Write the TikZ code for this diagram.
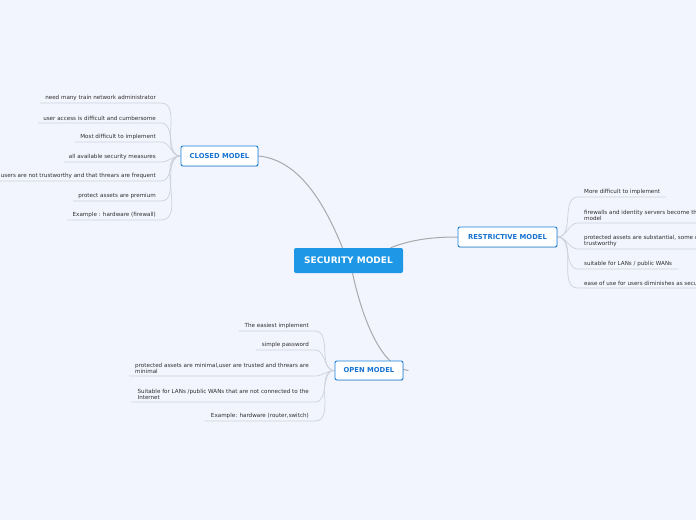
\documentclass[tikz,border=0pt]{standalone}
\usepackage{fontspec}
\setmainfont{DejaVu Sans}
\usetikzlibrary{shadows,calc}
\definecolor{bg}{HTML}{F2F5FD}
\definecolor{mainblue}{HTML}{1E98E6}
\definecolor{subblue}{HTML}{1B80DC}
\definecolor{subtext}{HTML}{1672D0}
\definecolor{leaftext}{HTML}{2E2E2E}
\definecolor{leafline}{HTML}{CDD2DA}
\definecolor{mainline}{HTML}{A9A9AD}
\pgfdeclarelayer{bgl}
\pgfdeclarelayer{links}
\pgfsetlayers{bgl,links,main}
\tikzset{
  mainbox/.style={fill=mainblue, rounded corners=2pt, text=white, font=\fontsize{9}{10}\selectfont\bfseries, minimum width=109pt, minimum height=25pt, inner sep=0pt},
  subbox/.style={fill=white, draw=subblue, line width=0.9pt, rounded corners=2pt, text=subtext, font=\fontsize{6.8}{8}\selectfont\bfseries, minimum height=20pt, inner sep=0pt, drop shadow={opacity=0.25, shadow xshift=0.6pt, shadow yshift=-0.8pt}},
  leafE/.style={anchor=south east, text=leaftext, font=\fontsize{5.6}{6.6}\selectfont, align=left, inner xsep=5pt, inner ysep=2pt},
  leafW/.style={anchor=south west, text=leaftext, font=\fontsize{5.6}{6.6}\selectfont, align=left, inner xsep=6pt, inner ysep=2pt},
  branch/.style={draw=leafline, line width=0.7pt},
  mainlink/.style={draw=mainline, line width=1pt},
}
\begin{document}
\begin{tikzpicture}[x=1pt,y=-1pt]
\begin{pgfonlayer}{bgl}
\fill[bg] (0,0) rectangle (696,520);
\end{pgfonlayer}
\useasboundingbox (0,0) rectangle (696,520);
\clip (0,0) rectangle (696,520);

\node[mainbox] (sec) at (348.5,260.5) {SECURITY MODEL};
\node[subbox, minimum width=77pt] (closed) at (219.5,156) {CLOSED MODEL};
\node[subbox, minimum width=99pt] (restr) at (507.5,237) {RESTRICTIVE MODEL};
\node[subbox, minimum width=68pt, minimum height=19pt] (open) at (369,370.5) {OPEN MODEL};

% closed leaves
\node[leafE] (c1) at (161,103) {need many train network administrator};
\node[leafE] (c2) at (161,123) {user access is difficult and cumbersome};
\node[leafE] (c3) at (161,142) {Most difficult to implement};
\node[leafE] (c4) at (161,162) {all available security measures};
\node[leafE] (c5) at (161,181) {users are not trustworthy and that threars are frequent};
\node[leafE] (c6) at (161,201) {protect assets are premium};
\node[leafE] (c7) at (161,220) {Example : hardware (firewall)};

% restrictive leaves
\node[leafW] (r1) at (578,197) {More difficult to implement};
\node[leafW] (r2) at (578,223) {firewalls and identity servers become th\\model};
\node[leafW] (r3) at (578,249) {protected assets are substantial, some u\\trustworthy};
\node[leafW] (r4) at (578,269) {suitable for LANs / public WANs};
\node[leafW] (r5) at (578,288) {ease of use for users diminishes as secu};

% open leaves
\node[leafE, inner xsep=6pt] (o1) at (315,331) {The easiest implement};
\node[leafE, inner xsep=6pt] (o2) at (315,350) {simple password};
\node[leafE, inner xsep=6pt] (o3) at (315,376) {protected assets are minimal,user are trusted and threars are\\minimal};
\node[leafE, inner xsep=6pt] (o4) at (315,402) {Suitable for LANs /public WANs that are not connected to the\\Internet};
\node[leafE, inner xsep=6pt] (o5) at (315,421) {Example:  hardware (router,switch)};

\coordinate (openstub) at ($(open.east)+(5,0)$);

\begin{pgfonlayer}{links}
\draw[mainlink] ($(sec.north)+(-6,0)$) .. controls (325,205) and (300,160) .. (closed.east);
\draw[mainlink] ($(sec.north)+(42,0)$) .. controls (415,238) and (440,237) .. (restr.west);
\draw[mainlink] ($(sec.south)+(4,0)$) .. controls (365,330) and (385,368) .. (openstub);
\foreach \n in {c1,c2,c3,c4,c5,c6,c7}{
  \draw[branch] (closed.west) to[out=180,in=0] (\n.south east) -- (\n.south west);
}
\foreach \n in {r1,r2,r3,r4,r5}{
  \draw[branch] (restr.east) to[out=0,in=180] (\n.south west) -- (\n.south east);
}
\foreach \n in {o1,o2,o3,o4,o5}{
  \draw[branch] (open.west) to[out=180,in=0] (\n.south east) -- (\n.south west);
}
\end{pgfonlayer}
\end{tikzpicture}
\end{document}
